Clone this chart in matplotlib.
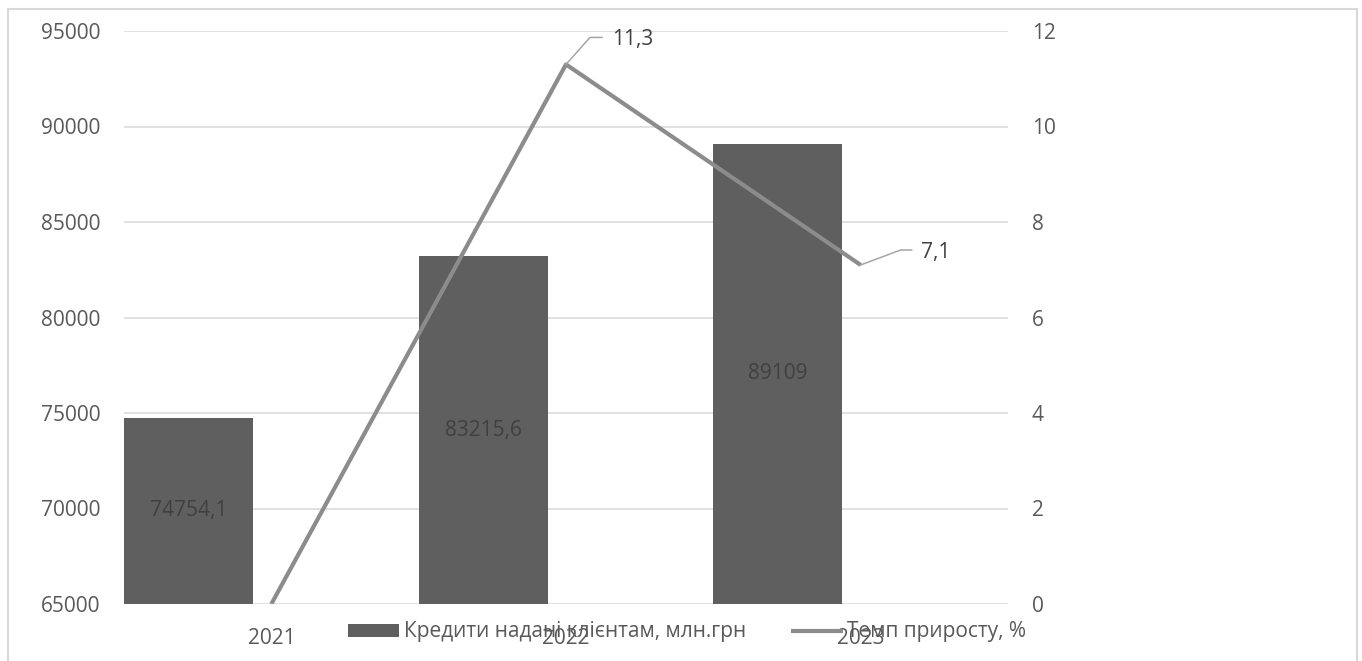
import matplotlib.pyplot as plt
from matplotlib.patches import Rectangle
from matplotlib.lines import Line2D

plt.rcParams['font.family'] = ['Open Sans', 'DejaVu Sans']

years = ['2021', '2022', '2023']
loans = [74754.1, 83215.6, 89109]
growth = [0, 11.3, 7.1]

bar_color = '#5f5f5f'
line_color = '#8c8c8c'
grid_color = '#d9d9d9'
tick_color = '#595959'
label_color = '#404040'
fs = 15

fig = plt.figure(figsize=(13.62, 6.61), dpi=100)
W, H = 1362, 661
ax = fig.add_axes([124 / W, 1 - 604 / H, (1008 - 124) / W, (604 - 31) / H])

# outer chart frame (bottom edge runs off the canvas)
fig.patches.append(Rectangle((8 / W, -0.05), (1357 - 8) / W, 1.05 - 9 / H,
                             transform=fig.transFigure, fill=False,
                             edgecolor=grid_color, linewidth=1.5))

x = list(range(len(years)))
bar_w = 0.438
bars = ax.bar([i - 0.5 for i in x], loans, width=bar_w, align='edge',
              color=bar_color, zorder=2, label='Кредити надані клієнтам, млн.грн')

ax.set_xlim(-0.5, 2.5)
ax.set_ylim(65000, 95000)
ax.set_yticks(range(65000, 95001, 5000))
ax.set_xticks(x)
ax.set_xticklabels(years)
ax.grid(axis='y', color=grid_color, linewidth=1.1, zorder=0)
ax.set_axisbelow(True)
for s in ax.spines.values():
    s.set_visible(False)
ax.tick_params(axis='both', length=0, labelsize=fs, labelcolor=tick_color)
ax.tick_params(axis='y', pad=17)
ax.tick_params(axis='x', pad=17)

# value labels centred inside bars
for b, v in zip(bars, loans):
    txt = f'{v:g}'.replace('.', ',')
    ax.text(b.get_x() + b.get_width() / 2, (65000 + v) / 2, txt,
            ha='center', va='center', fontsize=fs, color=label_color)

ax2 = ax.twinx()
ax2.set_ylim(0, 12)
ax2.set_yticks(range(0, 13, 2))
for s in ax2.spines.values():
    s.set_visible(False)
ax2.tick_params(axis='y', length=0, labelsize=fs, labelcolor=tick_color, pad=17)
ln, = ax2.plot(x, growth, color=line_color, linewidth=3, solid_capstyle='butt',
               label='Темп приросту, %', zorder=3)

# leader lines + labels for growth points (offsets in pixels)
offsets = {1: ((24, 27), (36, 27), (46, 25)), 2: ((40, 15), (51, 15), (60, 12))}
fig.canvas.draw()
for i, ((ex, ey), (hx, hy), (tx, ty)) in offsets.items():
    px, py = ax2.transData.transform((x[i], growth[i]))
    fig.lines.append(Line2D([px, px + ex, px + hx], [py, py + ey, py + hy],
                            transform=None, color='#a6a6a6', linewidth=1.1))
    fig.text((px + tx) / W, (py + ty) / H, f'{growth[i]:g}'.replace('.', ','),
             ha='left', va='center', fontsize=fs, color=label_color)

fig.legend(handles=[bars, ln], loc='center', bbox_to_anchor=(687 / W, 1 - 632 / H),
           ncol=2, frameon=False, fontsize=fs, labelcolor=tick_color,
           handlelength=2.45, handleheight=0.6, handletextpad=0.2,
           columnspacing=2.2, borderpad=0)

fig.savefig('out.png', dpi=100)
